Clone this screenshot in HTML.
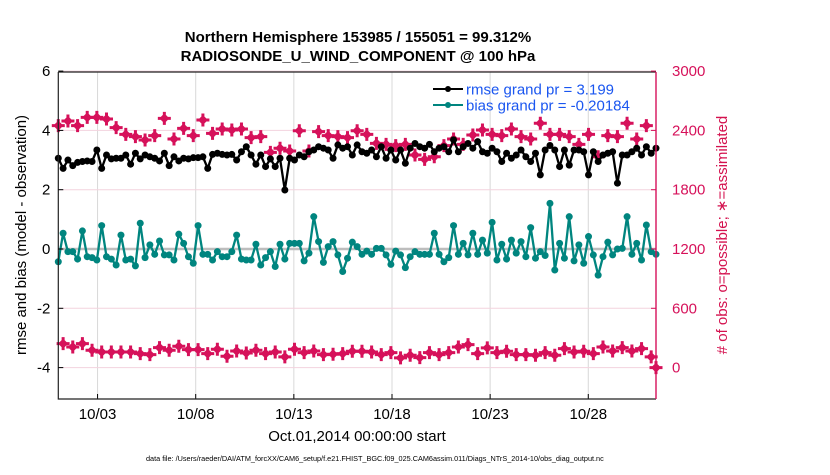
<!DOCTYPE html>
<html><head><meta charset="utf-8"><style>
body{margin:0;background:#fff;width:830px;height:470px;overflow:hidden}
svg{font-family:"Liberation Sans",Arial,sans-serif}
</style></head><body>
<svg id="chart" width="830" height="470" viewBox="0 0 830 470">
<text x="358" y="42" text-anchor="middle" font-size="15" font-weight="bold">Northern Hemisphere 153985 / 155051 = 99.312%</text>
<text x="358" y="61" text-anchor="middle" font-size="15" font-weight="bold">RADIOSONDE_U_WIND_COMPONENT @ 100 hPa</text>
<g id="grid"></g>
<g id="series"></g>
<g id="axes"></g>
<text transform="translate(26,235) rotate(-90)" text-anchor="middle" font-size="15">rmse and bias (model - observation)</text>
<text transform="translate(727,235) rotate(-90)" text-anchor="middle" font-size="15" fill="#d4124f"># of obs: o=possible; ∗=assimilated</text>
<text x="357" y="441" text-anchor="middle" font-size="15">Oct.01,2014 00:00:00 start</text>
<text x="146" y="461" font-size="7.3">data file: /Users/raeder/DAI/ATM_forcXX/CAM6_setup/f.e21.FHIST_BGC.f09_025.CAM6assim.011/Diags_NTrS_2014-10/obs_diag_output.nc</text>
<g>
<line x1="433" y1="89" x2="463" y2="89" stroke="#000" stroke-width="2"/>
<circle cx="448" cy="89" r="3" fill="#000"/>
<text x="466" y="94.5" font-size="15" fill="#1a56f0">rmse grand pr = 3.199</text>
<line x1="433" y1="105" x2="463" y2="105" stroke="#00857f" stroke-width="2"/>
<circle cx="448" cy="105" r="3" fill="#00857f"/>
<text x="466" y="110.5" font-size="15" fill="#1a56f0">bias grand pr = -0.20184</text>
</g>
</svg>
<script>
const rmse=[3.06,2.72,3.00,2.81,2.92,2.95,2.97,2.95,3.34,2.72,3.17,3.04,3.06,3.06,3.17,2.86,3.23,3.04,3.17,3.11,3.06,2.97,3.23,2.81,3.11,2.97,3.06,3.04,3.08,3.08,3.11,2.72,3.19,3.23,3.19,3.17,3.19,3.00,3.28,3.45,3.17,2.86,3.17,2.78,3.04,2.78,3.06,1.99,3.06,3.00,3.17,3.11,3.28,3.34,3.45,3.40,3.34,3.06,3.51,3.40,3.45,3.17,3.51,
3.28,3.23,3.34,3.11,3.45,3.06,3.34,3.00,3.34,2.89,3.40,3.56,3.45,3.40,3.53,3.28,3.40,3.45,3.28,3.68,3.28,3.45,3.56,3.40,3.62,3.28,3.23,3.40,3.28,2.95,3.23,3.06,3.17,3.34,3.11,2.95,3.23,2.50,3.34,3.49,3.34,2.78,3.34,2.83,3.34,3.34,3.28,2.50,3.28,2.95,3.17,3.23,3.28,2.22,3.17,3.17,3.28,3.40,3.17,3.45,3.23,3.40];
const bias=[-0.43,0.53,-0.09,-0.09,-0.34,0.61,-0.26,-0.29,-0.37,0.79,-0.26,-0.34,-0.54,0.47,-0.37,-0.34,-0.57,0.87,-0.29,0.14,-0.18,0.27,-0.20,-0.20,-0.37,0.50,0.19,-0.26,-0.48,0.79,-0.18,-0.18,-0.37,-0.09,-0.26,-0.26,-0.09,0.47,-0.34,-0.37,-0.37,0.16,-0.54,-0.29,-0.09,-0.59,0.16,-0.34,0.19,0.19,0.19,-0.40,-0.14,1.09,0.25,-0.45,0.08,0.25,-0.20,-0.76,-0.31,0.23,0.08,
-0.18,-0.07,-0.18,0.02,0.02,-0.20,-0.52,-0.07,-0.20,-0.63,-0.26,-0.09,-0.18,-0.18,-0.18,0.53,-0.18,-0.43,-0.29,0.79,-0.18,0.19,-0.20,0.53,-0.18,0.30,-0.14,0.90,-0.37,0.16,-0.34,0.30,-0.14,0.25,-0.26,0.72,-0.31,-0.09,-0.22,1.54,-0.71,0.19,-0.31,1.09,-0.40,0.14,-0.48,0.42,-0.20,-0.88,-0.26,0.23,-0.20,0.00,0.02,1.09,-0.18,0.19,-0.37,0.81,-0.09,-0.18];
const countsMain=[2448,2495,2448,2532,2532,2515,2428,2360,2337,2303,2347,2522,2313,2421,2347,2505,2370,2414,2404,2414,2327,2337,2178,2219,2192,2397,2192,2387,2347,2337,2327,2397,
2360,2269,2259,2246,2259,2151,2107,2134,2246,2313,2259,2354,2404,2360,2347,2414,2337,2313,2472,2360,2360,2337,2259,2360,2134,2347,2337,2472,2313,2448];
const countsOff=[243,209,243,175,158,158,158,158,142,131,202,175,216,182,182,142,186,115,168,148,175,142,158,108,186,152,168,131,135,142,165,
165,158,131,152,98,125,101,152,131,152,209,233,142,199,152,165,131,131,125,152,125,192,158,165,142,209,168,202,168,192,108,0];
const xTickDays=[2,7,12,17,22,27];
const xTickLabels=["10/03","10/08","10/13","10/18","10/23","10/28"];
const yTicks=[6,4,2,0,-2,-4];
const rTicks=[3000,2400,1800,1200,600,0];

const NS="http://www.w3.org/2000/svg";
const L=58.3,R=656,T=72,B=399;
const dayMin=0,dayMax=30.45;
const xS=d=>L+(d-dayMin)/(dayMax-dayMin)*(R-L);
const yS=v=>249-29.65*v;
const yR=c=>yS(c/300-4);
function mk(tag,attrs,parent){const e=document.createElementNS(NS,tag);for(const k in attrs)e.setAttribute(k,attrs[k]);parent.appendChild(e);return e;}
const grid=document.getElementById('grid'),ser=document.getElementById('series'),ax=document.getElementById('axes');
const n=rmse.length;
const step=(dayMax-dayMin)/(n-1);
const tDay=i=>dayMin+i*step;

xTickDays.forEach((d,i)=>{
  const g=mk('line',{x1:xS(d),x2:xS(d),y1:T,y2:B,stroke:'#d8d8d8','stroke-width':1},grid);
  
  
  const t=mk('line',{x1:xS(d),x2:xS(d),y1:B,y2:B-5,stroke:'#000','stroke-width':1},ax);
  
  
  const lb=mk('text',{x:xS(d),y:B+20,'text-anchor':'middle','font-size':15},ax);
  lb.textContent=xTickLabels[i];
  
  
});
rTicks.forEach(c=>{
  if(c===1200)return;
  const g=mk('line',{x1:L,x2:R,y1:yR(c),y2:yR(c),stroke:'#f3d3de','stroke-width':1},grid);
  
  
});
const z=mk('line',{x1:L,x2:R,y1:yS(0),y2:yS(0),stroke:'#bdbdbd','stroke-width':2.5},grid);



function star(x,y,name){
  const g=mk('path',{d:`M${x-5},${y} L${x},${y-5} L${x+5},${y} L${x},${y+5} Z M${x-1.5},${y-6.5}h3v13h-3z M${x-6.5},${y-1.5}h13v3h-13z`,fill:'#d6115a','fill-rule':'nonzero'},ser);
  
  
}
countsMain.forEach((c,k)=>star(xS(tDay(2*k)),yR(c),'obs-count-marker'));
countsOff.forEach((c,k)=>star(xS(tDay(Math.min(2*k+1,n-1))),yR(c),'obs-count-offhour-marker'));

function series(vals,color,name){
  const d=vals.map((v,i)=>(i?'L':'M')+xS(tDay(i)).toFixed(1)+','+yS(v).toFixed(1)).join('');
  const p=mk('path',{d:d,fill:'none',stroke:color,'stroke-width':2.3,'stroke-linejoin':'round'},ser);
  
  
  vals.forEach((v,i)=>{
    const c=mk('circle',{cx:xS(tDay(i)),cy:yS(v),r:3.5,fill:color},ser);
    
    
  });
}
series(bias,'#00857f','bias');
series(rmse,'#000000','rmse');

const la=mk('path',{d:`M${L},${T}V${B}H${R}`,fill:'none',stroke:'#222','stroke-width':1.2},ax);


const ta=mk('line',{x1:L,x2:R,y1:T,y2:T,stroke:'#222','stroke-width':1.2},ax);


const ra=mk('line',{x1:R,x2:R,y1:T,y2:B,stroke:'#d6115a','stroke-width':1.4},ax);


yTicks.forEach(v=>{
  const t=mk('line',{x1:L,x2:L+5,y1:yS(v),y2:yS(v),stroke:'#000'},ax);
  
  
  const lb=mk('text',{x:L-8,y:yS(v)+5,'text-anchor':'end','font-size':15},ax);
  lb.textContent=v;
  
  
});
rTicks.forEach(c=>{
  const t=mk('line',{x1:R-5,x2:R,y1:yR(c),y2:yR(c),stroke:'#d6115a'},ax);
  
  
  const lb=mk('text',{x:R+16,y:yR(c)+5,'font-size':15,fill:'#d6115a'},ax);
  lb.textContent=c;
  
  
});
</script>
</body></html>
